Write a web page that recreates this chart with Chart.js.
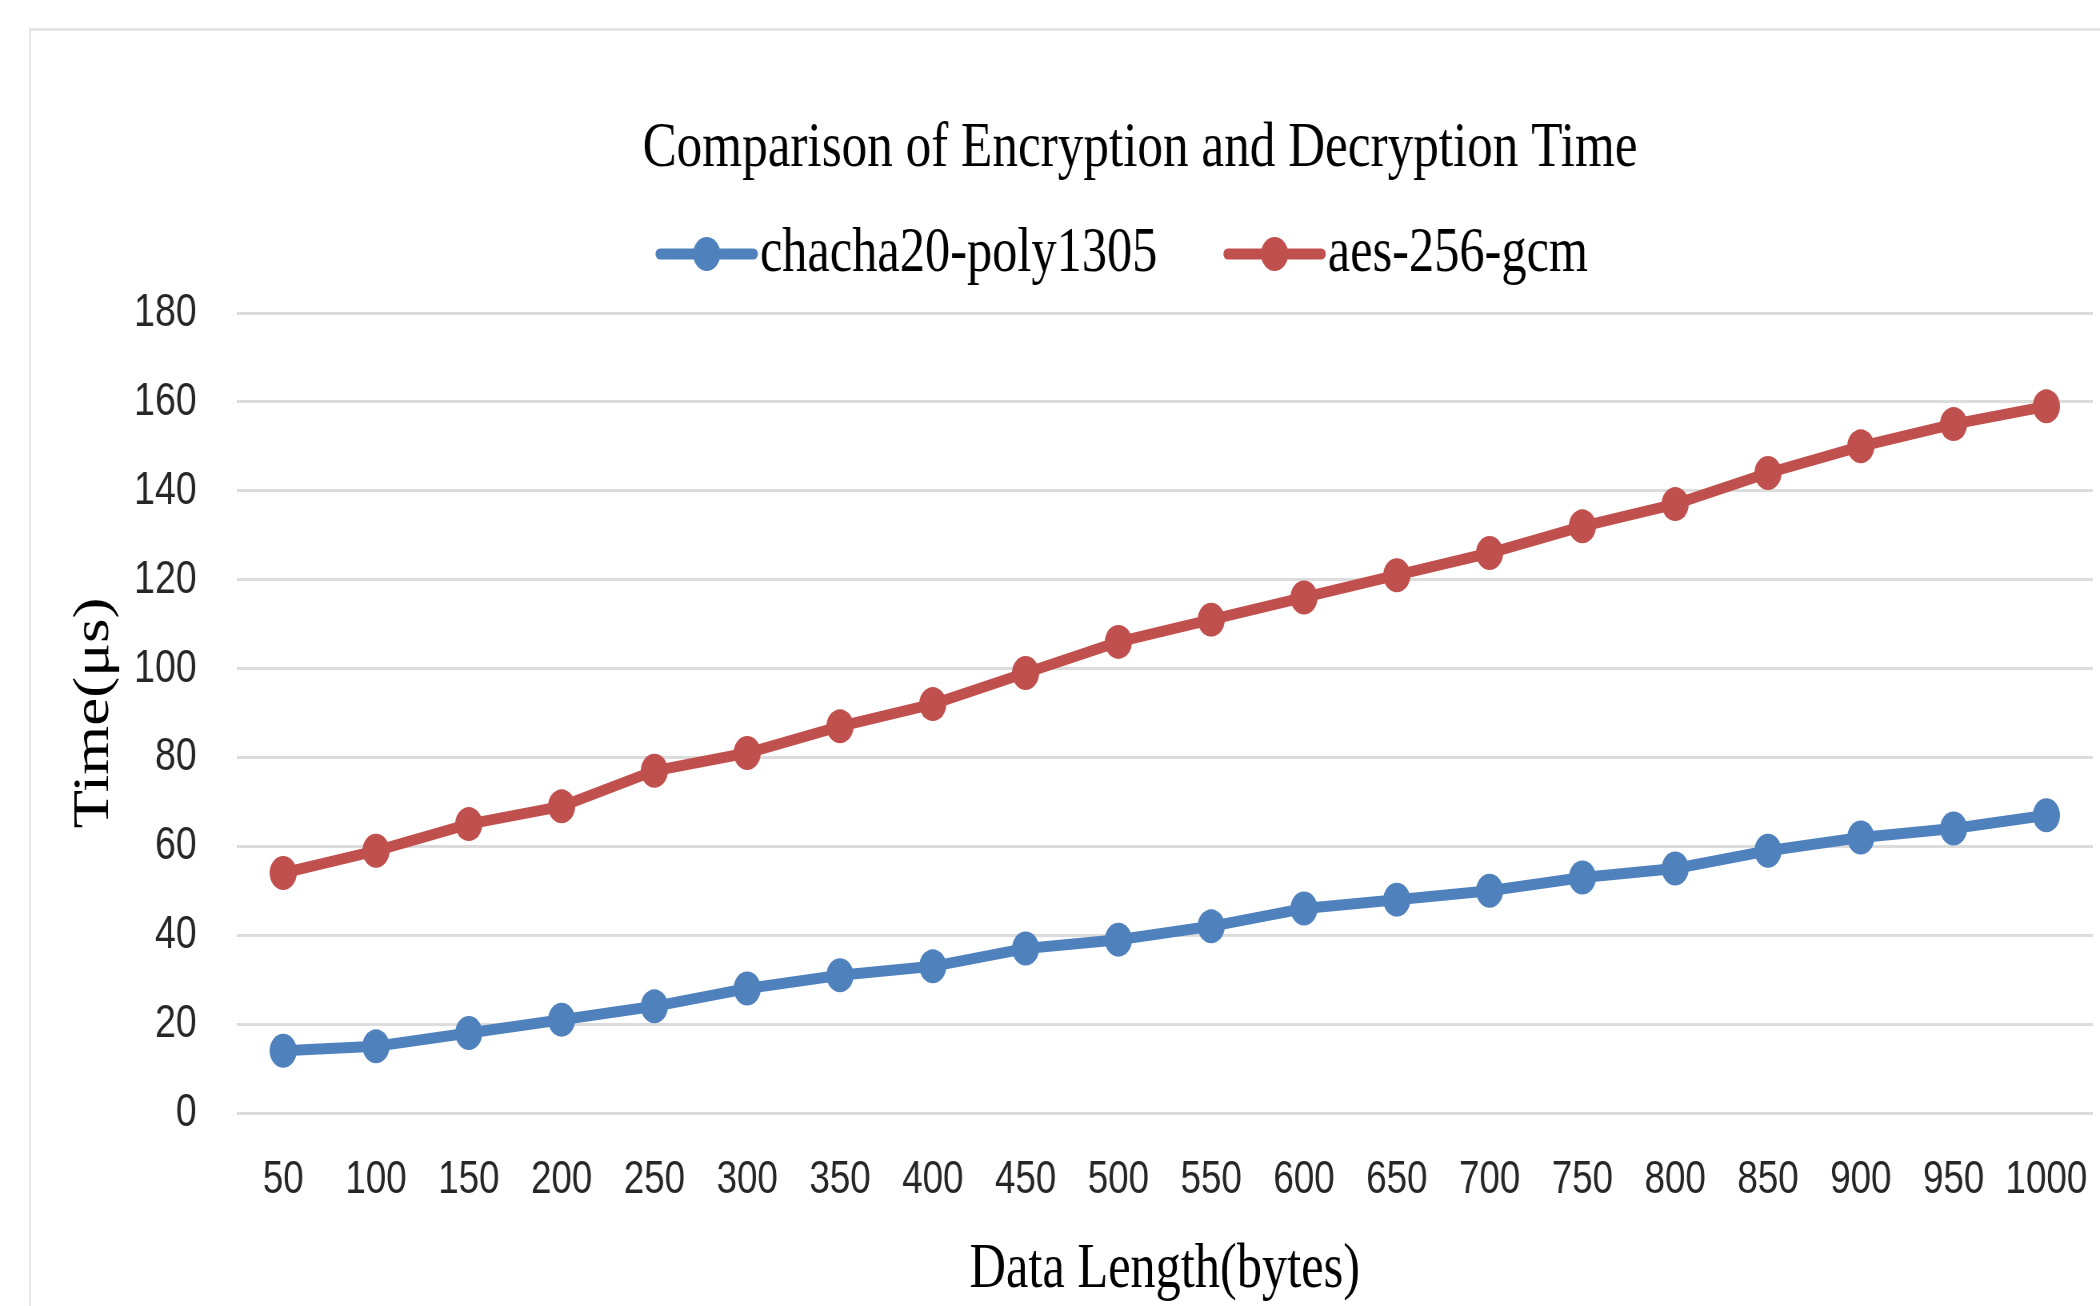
<!DOCTYPE html>
<html>
<head>
<meta charset="utf-8">
<title>Comparison of Encryption and Decryption Time</title>
<script src="https://cdn.jsdelivr.net/npm/chart.js@4/dist/chart.umd.min.js"></script>
<style>
  html, body { margin: 0; padding: 0; background: #ffffff; overflow: hidden; }
  #wrap { position: relative; width: 2100px; height: 1306px; overflow: hidden; background: #ffffff; }
  #frame {
    position: absolute; left: 29px; top: 28px; width: 2200px; height: 1400px;
    border-top: 3px solid #e6e6e6; border-left: 2px solid #e9e9e9;
  }
  /* the chart is laid out on a wider canvas and narrowed horizontally */
  #c {
    position: absolute; left: 0; top: 0;
    width: 2633px; height: 1306px;
    transform: scaleX(0.8); transform-origin: 0 0;
  }
</style>
</head>
<body>
<div id="wrap">
  <div id="frame"></div>
  <canvas id="c" width="2633" height="1306"></canvas>
</div>
<script>
// Data length in bytes
const lengths = ['50', '100', '150', '200', '250', '300', '350', '400', '450', '500',
                 '550', '600', '650', '700', '750', '800', '850', '900', '950', '1000'];

// Time in microseconds
const chachaTimes = [14, 15, 18, 21, 24, 28, 31, 33, 37, 39, 42, 46, 48, 50, 53, 55, 59, 62, 64, 67];
const aesTimes    = [54, 59, 65, 69, 77, 81, 87, 92, 99, 106, 111, 116, 121, 126, 132, 137, 144, 150, 155, 159];

const seriesNames = ['chacha20-poly1305', 'aes-256-gcm'];
const chartTitle = 'Comparison of Encryption and Decryption Time';
const BLUE = '#4f81bd';
const RED = '#c0504d';

const SERIF = "'Liberation Serif', 'Times New Roman', serif";
const SANS = "'Liberation Sans', Arial, sans-serif";

// Header: centred title plus an Excel-style legend (short line with a dot, then the series name)
const header = {
  id: 'header',
  afterDraw(chart, args, opts) {
    const ctx = chart.ctx;
    const sets = chart.data.datasets;
    ctx.save();

    ctx.fillStyle = '#000000';
    ctx.textAlign = 'center';
    ctx.textBaseline = 'middle';
    ctx.font = opts.titleSize + 'px ' + SERIF;
    ctx.fillText(opts.title, opts.titleX, opts.titleY);

    const lineLen = opts.lineLength;
    ctx.font = opts.legendSize + 'px ' + SERIF;
    const widths = sets.map(ds => ctx.measureText(ds.label).width);
    let total = 0;
    sets.forEach((ds, i) => {
      total += lineLen + opts.textGap + widths[i];
      if (i < sets.length - 1) total += opts.itemGap;
    });
    let x = opts.legendX - total / 2;
    const y = opts.legendY;
    sets.forEach((ds, i) => {
      ctx.strokeStyle = ds.borderColor;
      ctx.lineWidth = ds.borderWidth;
      ctx.lineCap = 'round';
      ctx.beginPath();
      ctx.moveTo(x + 4, y);
      ctx.lineTo(x + lineLen - 4, y);
      ctx.stroke();
      ctx.fillStyle = ds.pointBackgroundColor;
      ctx.beginPath();
      ctx.arc(x + lineLen / 2, y, ds.pointRadius, 0, Math.PI * 2);
      ctx.fill();
      x += lineLen + opts.textGap;
      ctx.fillStyle = '#000000';
      ctx.textAlign = 'left';
      ctx.textBaseline = 'middle';
      ctx.fillText(ds.label, x, y);
      x += widths[i] + opts.itemGap;
    });
    ctx.restore();
  }
};

const seriesStyle = (color) => ({
  borderColor: color,
  backgroundColor: color,
  pointBackgroundColor: color,
  pointBorderColor: color,
  borderWidth: 11,
  pointRadius: 17,
  pointHoverRadius: 17,
  pointBorderWidth: 0,
  tension: 0,
  fill: false
});

new Chart(document.getElementById('c'), {
  type: 'line',
  data: {
    labels: lengths,
    datasets: [
      Object.assign({ label: seriesNames[0], data: chachaTimes }, seriesStyle(BLUE)),
      Object.assign({ label: seriesNames[1], data: aesTimes }, seriesStyle(RED))
    ]
  },
  plugins: [header],
  options: {
    responsive: false,
    animation: false,
    devicePixelRatio: 1,
    layout: { padding: { left: 0, right: 0, top: 313, bottom: 0 } },
    plugins: {
      legend: { display: false },
      tooltip: { enabled: false },
      title: { display: false },
      header: {
        title: chartTitle,
        titleSize: 64,
        titleX: 1425,
        titleY: 149,
        legendX: 1403,
        legendY: 254,
        legendSize: 63,
        lineLength: 125,
        textGap: 4,
        itemGap: 84
      }
    },
    scales: {
      x: {
        type: 'category',
        offset: true,
        grid: { display: false, drawTicks: false },
        border: { display: false },
        ticks: {
          autoSkip: false,
          maxRotation: 0,
          padding: 40,
          color: '#262626',
          font: { family: SANS, size: 46 }
        },
        title: {
          display: true,
          text: 'Data Length(bytes)',
          color: '#000000',
          font: { family: SERIF, size: 63 },
          padding: { top: 0, bottom: -2.2 }
        },
        afterFit(scale) {
          scale.height = 193;
          scale.paddingLeft = 0;
          scale.paddingRight = 0;
        }
      },
      y: {
        min: 0,
        max: 180,
        grid: { color: '#dcdcdc', lineWidth: 3, drawTicks: false },
        border: { display: false },
        ticks: {
          stepSize: 20,
          padding: 50,
          color: '#262626',
          font: { family: SANS, size: 47 }
        },
        title: {
          display: true,
          text: 'Time(μs)',
          color: '#000000',
          font: { family: SERIF, size: 63 },
          padding: { top: 81, bottom: 0 }
        },
        afterFit(scale) {
          scale.width = 296;
          scale.paddingTop = 0;
          scale.paddingBottom = 0;
        }
      }
    }
  }
});
</script>
</body>
</html>
